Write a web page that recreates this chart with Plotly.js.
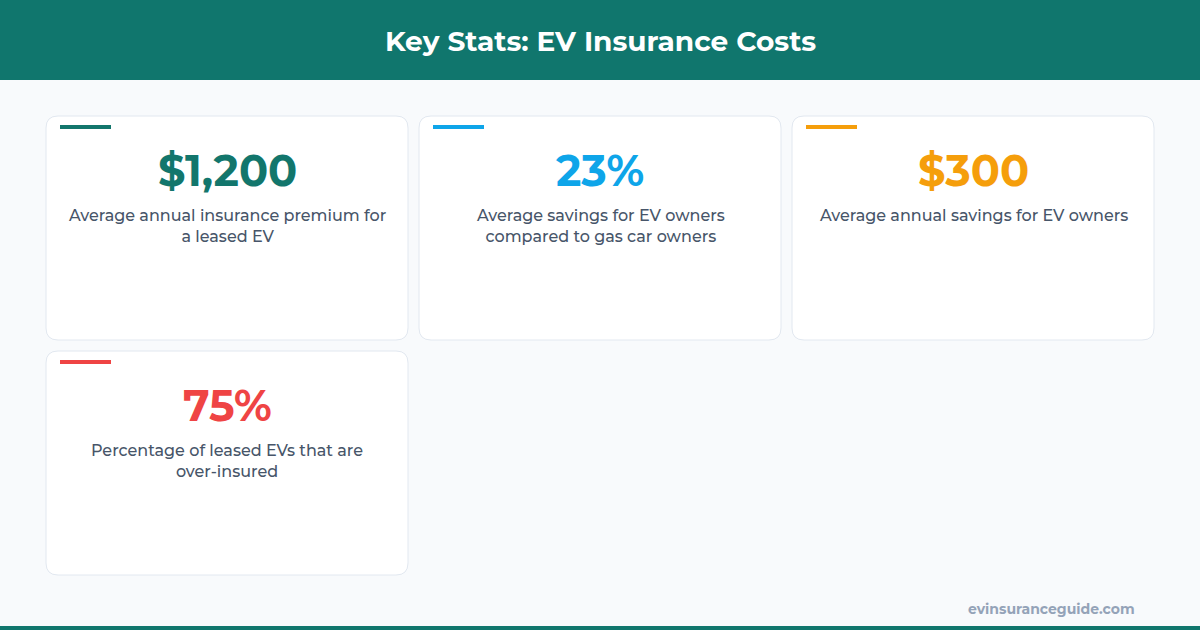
<!DOCTYPE html>
<html><head><meta charset="utf-8">
<script src="https://cdn.plot.ly/plotly-3.0.1.min.js"></script>
<style>html,body{margin:0;padding:0;background:#f8fafc;}#chart{width:1200px;height:630px;}</style>
</head><body><div id="chart"></div>
<script>
const chartTitle = "Key Stats: EV Insurance Costs";
const statValues = ["$1,200", "23%", "$300", "75%"];
const statLabels = [
  "Average annual insurance premium for<br>a leased EV",
  "Average savings for EV owners<br>compared to gas car owners",
  "Average annual savings for EV owners",
  "Percentage of leased EVs that are<br>over-insured"
];
const statColors = ["#12766c", "#0ea5e9", "#f59e0b", "#ef4444"];
const sourceText = "evinsuranceguide.com";

const FONT = "Montserrat, Inter, 'Open Sans', sans-serif";
const HEADER = "#10766d";

function rr(x0, y0, x1, y1, r) {
  return `M${x0+r},${y0} L${x1-r},${y0} Q${x1},${y0} ${x1},${y0+r} L${x1},${y1-r} Q${x1},${y1} ${x1-r},${y1} L${x0+r},${y1} Q${x0},${y1} ${x0},${y1-r} L${x0},${y0+r} Q${x0},${y0} ${x0+r},${y0} Z`;
}

const shapes = [
  {type:"rect", xref:"x", yref:"y", x0:0, x1:1200, y0:0, y1:80, fillcolor:HEADER, line:{width:0}, layer:"below"},
  {type:"rect", xref:"x", yref:"y", x0:0, x1:1200, y0:626, y1:630, fillcolor:HEADER, line:{width:0}, layer:"below"}
];
const annotations = [
  {x:600, y:41, xref:"x", yref:"y", text:"<b>"+chartTitle+"</b>", showarrow:false,
   font:{family:FONT, size:28, color:"#ffffff"}, xanchor:"center", yanchor:"middle"},
  {x:1137, y:609, xref:"x", yref:"y", text:"<b>"+sourceText+"</b>", showarrow:false,
   font:{family:FONT, size:14, color:"#94a3b8"}, xanchor:"right", yanchor:"middle"}
];

statValues.forEach((v, i) => {
  const col = i % 3, row = Math.floor(i / 3);
  const x0 = 46 + col * 373, x1 = x0 + 362;
  const y0 = 116 + row * 235, y1 = y0 + 224;
  const cx = (x0 + x1) / 2;
  shapes.push({type:"path", xref:"x", yref:"y", path:rr(x0, y0, x1, y1, 12),
    fillcolor:"#ffffff", line:{color:"#e2e8f0", width:1}, layer:"below"});
  shapes.push({type:"rect", xref:"x", yref:"y", x0:x0+14, x1:x0+65, y0:y0+9, y1:y0+13,
    fillcolor:statColors[i], line:{width:0}, layer:"above"});
  annotations.push({x:cx, y:y0+54, xref:"x", yref:"y", text:"<b>"+v+"</b>", showarrow:false,
    font:{family:FONT, size:43, color:statColors[i]}, xanchor:"center", yanchor:"middle"});
  annotations.push({x:cx, y:y0+88, xref:"x", yref:"y", text:statLabels[i], showarrow:false,
    font:{family:FONT, size:16, color:"#475569", weight:500}, xanchor:"center", yanchor:"top", align:"center"});
});

const layout = {
  width:1200, height:630, margin:{l:0, r:0, t:0, b:0},
  paper_bgcolor:"#f8fafc", plot_bgcolor:"#f8fafc",
  xaxis:{range:[0,1200], visible:false, fixedrange:true},
  yaxis:{range:[630,0], visible:false, fixedrange:true},
  shapes, annotations, showlegend:false
};
Plotly.newPlot("chart", [{x:[0], y:[0], mode:"markers", marker:{opacity:0}, hoverinfo:"skip"}], layout, {staticPlot:true, displayModeBar:false});
</script></body></html>
